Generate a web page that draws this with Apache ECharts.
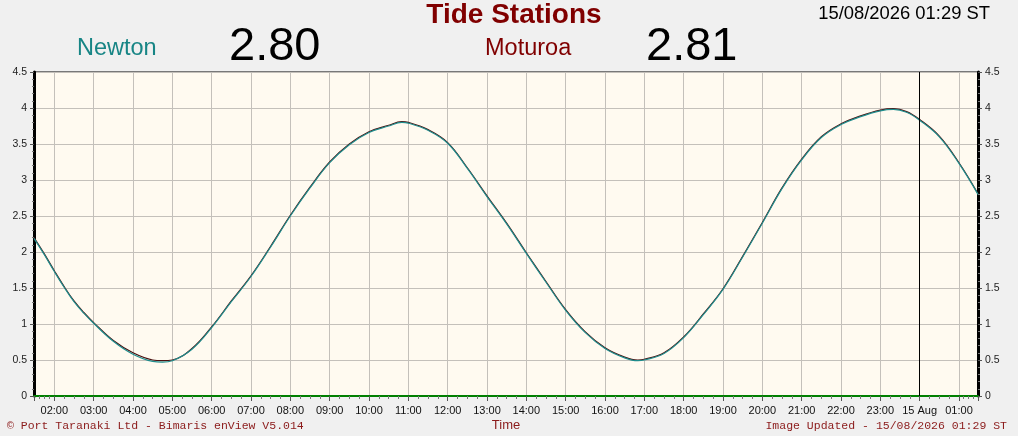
<!DOCTYPE html>
<html>
<head>
<meta charset="utf-8">
<script src="https://cdn.jsdelivr.net/npm/echarts@6/dist/echarts.min.js"></script>
<style>
html,body{margin:0;padding:0;background:#F0F0F0;}
#c{width:1018px;height:436px;}
</style>
</head>
<body>
<div id="c"></div>
<script>
// Sample times (local time)
const times = [
  "2026-08-14 01:29","2026-08-14 01:45","2026-08-14 02:00","2026-08-14 02:15","2026-08-14 02:30","2026-08-14 02:45",
  "2026-08-14 03:00","2026-08-14 03:30","2026-08-14 04:00","2026-08-14 04:30","2026-08-14 04:45","2026-08-14 05:00",
  "2026-08-14 05:30","2026-08-14 06:00","2026-08-14 06:30","2026-08-14 07:00","2026-08-14 07:30","2026-08-14 08:00",
  "2026-08-14 08:30","2026-08-14 09:00","2026-08-14 09:30","2026-08-14 10:00","2026-08-14 10:30","2026-08-14 10:50",
  "2026-08-14 11:00","2026-08-14 11:30","2026-08-14 12:00","2026-08-14 12:30","2026-08-14 13:00","2026-08-14 13:30",
  "2026-08-14 14:00","2026-08-14 14:30","2026-08-14 15:00","2026-08-14 15:30","2026-08-14 16:00","2026-08-14 16:30",
  "2026-08-14 16:50","2026-08-14 17:00","2026-08-14 17:30","2026-08-14 18:00","2026-08-14 18:30","2026-08-14 19:00",
  "2026-08-14 19:30","2026-08-14 20:00","2026-08-14 20:30","2026-08-14 21:00","2026-08-14 21:30","2026-08-14 22:00",
  "2026-08-14 22:30","2026-08-14 23:00","2026-08-14 23:20","2026-08-14 23:40","2026-08-15 00:00","2026-08-15 00:30",
  "2026-08-15 01:00","2026-08-15 01:29"
];
const newton = [
  2.19,1.96,1.73,1.51,1.31,1.15,
  1.01,0.76,0.58,0.48,0.47,0.49,
  0.65,0.95,1.31,1.66,2.07,2.50,
  2.89,3.24,3.49,3.66,3.75,3.80,
  3.79,3.69,3.51,3.16,2.77,2.39,
  1.98,1.58,1.19,0.88,0.66,0.53,
  0.49,0.50,0.59,0.81,1.13,1.48,
  1.93,2.40,2.88,3.28,3.59,3.77,
  3.88,3.96,3.98,3.94,3.83,3.60,
  3.23,2.80
];
const moturoa = [
  2.20,1.97,1.74,1.52,1.32,1.16,
  1.02,0.77,0.60,0.50,0.49,0.50,
  0.66,0.96,1.32,1.67,2.08,2.51,
  2.90,3.25,3.50,3.67,3.76,3.81,
  3.80,3.70,3.52,3.17,2.78,2.40,
  1.99,1.59,1.20,0.89,0.67,0.54,
  0.50,0.51,0.60,0.82,1.14,1.49,
  1.94,2.41,2.89,3.29,3.60,3.78,
  3.89,3.97,3.99,3.95,3.84,3.61,
  3.24,2.81
];
const yTicks = ["0","0.5","1","1.5","2","2.5","3","3.5","4","4.5"];
const titleText = "Tide Stations";
const stampText = "15/08/2026 01:29 ST";
const station1 = "Newton", reading1 = "2.80";
const station2 = "Moturoa", reading2 = "2.81";
const footerLeft = "\u00A9 Port Taranaki Ltd - Bimaris enView V5.014";
const footerMid = "Time";
const footerRight = "Image Updated - 15/08/2026 01:29 ST";
const midnight = "2026-08-15 00:00";
const monthNames = ["Jan","Feb","Mar","Apr","May","Jun","Jul","Aug","Sep","Oct","Nov","Dec"];

function ts(s){
  const [d,t] = s.split(" ");
  const [Y,M,D] = d.split("-").map(Number);
  const [h,m] = t.split(":").map(Number);
  return new Date(Y,M-1,D,h,m).getTime();
}
const xs = times.map(ts);
const newtonData = xs.map((x,i)=>[x,newton[i]]);
const moturoaData = xs.map((x,i)=>[x,moturoa[i]]);

function pad(n){return (n<10?"0":"")+n;}
function xLabel(v){
  const d = new Date(v);
  if (d.getHours()===0 && d.getMinutes()===0) return d.getDate()+" "+monthNames[d.getMonth()];
  return pad(d.getHours())+":"+pad(d.getMinutes());
}

const chart = echarts.init(document.getElementById('c'), null, {renderer:'canvas'});
const yAxisCommon = {
  type:'value', min:0, max:4.5, interval:0.5,
  axisLine:{show:true, lineStyle:{color:'#000', width:3}},
  axisTick:{show:true, length:4, lineStyle:{color:'#555'}},
  minorTick:{show:true, splitNumber:5, length:2, lineStyle:{color:'#777'}},
  splitLine:{show:true, lineStyle:{color:'#C4C0BA', width:1}},
  axisLabel:{fontFamily:'Liberation Sans, Arial', fontSize:10.5, color:'#222', margin:7,
    formatter:function(v){ return yTicks[Math.round(v/0.5)]; }}
};
chart.setOption({
  animation:false,
  backgroundColor:'#F0F0F0',
  textStyle:{fontFamily:'Liberation Sans, Arial'},
  grid:{left:34, right:40, top:72, bottom:40, show:true, backgroundColor:'#FFFAF0', borderColor:'#000', borderWidth:1, containLabel:false},
  title:[
    {text:titleText, left:509, top:-4, textAlign:'center', textStyle:{fontSize:28, fontWeight:'bold', color:'#800000', fontFamily:'Liberation Sans, Arial'}},
    {text:stampText, right:23, top:0, textStyle:{fontSize:18.4, fontWeight:'normal', color:'#000', fontFamily:'Liberation Sans, Arial'}},
    {text:station1, left:72, top:32, textStyle:{fontSize:23.5, fontWeight:'normal', color:'#178585', fontFamily:'Liberation Sans, Arial'}},
    {text:reading1, left:224, top:19, textStyle:{fontSize:47, fontWeight:'normal', color:'#000', fontFamily:'Liberation Sans, Arial'}},
    {text:station2, left:480, top:32, textStyle:{fontSize:23.5, fontWeight:'normal', color:'#800000', fontFamily:'Liberation Sans, Arial'}},
    {text:reading2, left:641, top:19, textStyle:{fontSize:47, fontWeight:'normal', color:'#000', fontFamily:'Liberation Sans, Arial'}},
    {text:footerLeft, left:2, top:415, textStyle:{fontSize:11.5, fontWeight:'normal', color:'#8B1A1A', fontFamily:'Liberation Mono, Courier New'}},
    {text:footerMid, left:501, top:414, textAlign:'center', textStyle:{fontSize:13, fontWeight:'normal', color:'#8B1A1A', fontFamily:'Liberation Sans, Arial'}},
    {text:footerRight, right:6, top:415, textStyle:{fontSize:11.5, fontWeight:'normal', color:'#8B1A1A', fontFamily:'Liberation Mono, Courier New'}}
  ],
  xAxis:{
    type:'time', min:xs[0], max:xs[xs.length-1],
    minInterval:3600000, maxInterval:3600000,
    axisLine:{show:true, onZero:false, lineStyle:{color:'#008000', width:2}},
    axisTick:{show:true, length:5, lineStyle:{color:'#555'}},
    minorTick:{show:true, splitNumber:4, length:3, lineStyle:{color:'#777'}},
    splitLine:{show:true, lineStyle:{color:'#C4C0BA', width:1}},
    axisLabel:{fontSize:11, color:'#111', margin:9, formatter:xLabel, showMinLabel:false, showMaxLabel:false, hideOverlap:false}
  },
  yAxis:[
    Object.assign({}, yAxisCommon, {position:'left'}),
    Object.assign({}, yAxisCommon, {position:'right', axisLine:{show:true, lineStyle:{color:'#000', width:3}}, splitLine:{show:false}})
  ],
  series:[
    {name:station2, type:'line', data:moturoaData, showSymbol:false, smooth:0.4,
      lineStyle:{color:'#4A1010', width:1.2}, z:3},
    {name:station1, type:'line', data:newtonData, showSymbol:false, smooth:0.4,
      lineStyle:{color:'#1F8C8C', width:1.2}, z:4,
      markLine:{silent:true, symbol:'none', label:{show:false}, lineStyle:{color:'#000', width:1, type:'solid'},
        data:[{xAxis:ts(midnight)}]}}
  ]
});
</script>
</body>
</html>
